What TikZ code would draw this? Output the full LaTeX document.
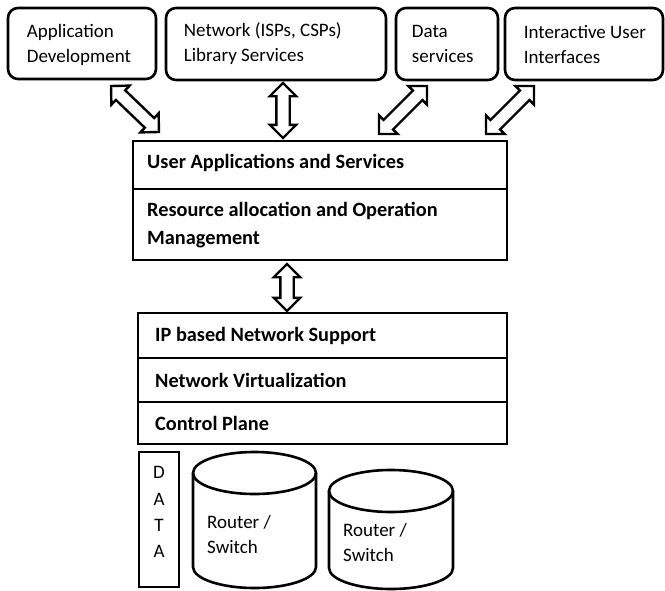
\documentclass[tikz,border=0pt]{standalone}
\usepackage{fontspec}
\setmainfont{Carlito}
\usetikzlibrary{shapes.arrows,calc}
\newcommand\dblarrow[2]{%
  \path let \p1=($(#2)-(#1)$), \n1={atan2(\y1,\x1)}, \n2={veclen(\x1,\y1)} in
    node[blockarr, rotate=\n1, minimum height=\n2] at ($(#1)!0.5!(#2)$) {};}
\begin{document}
\begin{tikzpicture}[x=1pt,y=-1pt,
  tbox/.style={draw, rounded corners=10pt, line width=2.6pt, inner sep=0pt},
  sbox/.style={draw, line width=2.6pt, inner sep=0pt},
  lbl/.style={anchor=west, inner sep=0pt, align=left, font=\fontsize{19}{25}\selectfont},
  blbl/.style={anchor=west, inner sep=0pt, align=left, font=\bfseries\fontsize{20.3}{28}\selectfont},
  letter/.style={inner sep=0pt, font=\fontsize{19}{20}\selectfont},
  blockarr/.style={draw, line width=2.4pt, double arrow, double arrow tip angle=90,
    double arrow head extend=6.5pt, inner xsep=0pt, inner ysep=5.5pt, fill=white},
  cyl/.style={line width=2.6pt}]
\useasboundingbox (0,0) rectangle (665,590);

% top boxes
\node[tbox, minimum width=148, minimum height=71] (app) at (82,43.5) {};
\node[tbox, minimum width=220, minimum height=72] (net) at (276,44) {};
\node[tbox, minimum width=102, minimum height=72] (data) at (447,44) {};
\node[tbox, minimum width=158, minimum height=72] (iui) at (584,44) {};
\node[lbl] (appt) at ($(app.west)+(20,1)$) {Application\\Development};
\node[lbl] (nett) at ($(net.west)+(19,0)$) {Network (ISPs, CSPs)\\Library Services};
\node[lbl] (datat) at ($(data.west)+(17,0)$) {Data\\services};
\node[lbl] (iuit) at ($(iui.west)+(20,0)$) {Interactive User\\Interfaces};

% middle box
\node[sbox, minimum width=374, minimum height=48] (uas) at (320,165) {};
\node[sbox, minimum width=374, minimum height=71] (ram) at (320,224.5) {};
\node[blbl] (uast) at (147,163) {User Applications and Services};
\node[blbl] (ramt) at (147,225) {Resource allocation and Operation\\Management};

% stack
\node[sbox, minimum width=369, minimum height=45] (ip) at (322.5,335.5) {};
\node[sbox, minimum width=369, minimum height=44] (nv) at (322.5,380) {};
\node[sbox, minimum width=369, minimum height=42] (cp) at (322.5,423) {};
\node[blbl] (ipt) at (155,336) {IP based Network Support};
\node[blbl] (nvt) at (155,380) {Network Virtualization};
\node[blbl] (cpt) at (155,423) {Control Plane};

% DATA column
\node[sbox, minimum width=40, minimum height=135] (dcol) at (159,519.5) {};
\node[letter] (d1) at (159,472) {D};
\node[letter] (d2) at (159,499) {A};
\node[letter] (d3) at (159,525) {T};
\node[letter] (d4) at (159,551) {A};

% cylinders
\draw[cyl] (193,473) -- (193,567) arc[start angle=180, end angle=0, x radius=61.5, y radius=21] -- (316,473);
\draw[cyl] (254.5,473) ellipse [x radius=61.5, y radius=21];
\node[lbl] (r1) at (207,534) {Router /\\Switch};
\draw[cyl] (329,491) -- (329,568) arc[start angle=180, end angle=0, x radius=62, y radius=21] -- (453,491);
\draw[cyl] (391,491) ellipse [x radius=62, y radius=21];
\node[lbl] (r2) at (343,542) {Router /\\Switch};

% arrow end points
\coordinate (a1s) at (111,86);  \coordinate (a1e) at (159,132);
\coordinate (a2s) at (283,83);  \coordinate (a2e) at (283,138);
\coordinate (a3s) at (427,86);  \coordinate (a3e) at (379,134);
\coordinate (a4s) at (534,86);  \coordinate (a4e) at (486,134);
\coordinate (a5s) at (287,264); \coordinate (a5e) at (287,311);
\dblarrow{a1s}{a1e}
\dblarrow{a2s}{a2e}
\dblarrow{a3s}{a3e}
\dblarrow{a4s}{a4e}
\dblarrow{a5s}{a5e}
\end{tikzpicture}
\end{document}
